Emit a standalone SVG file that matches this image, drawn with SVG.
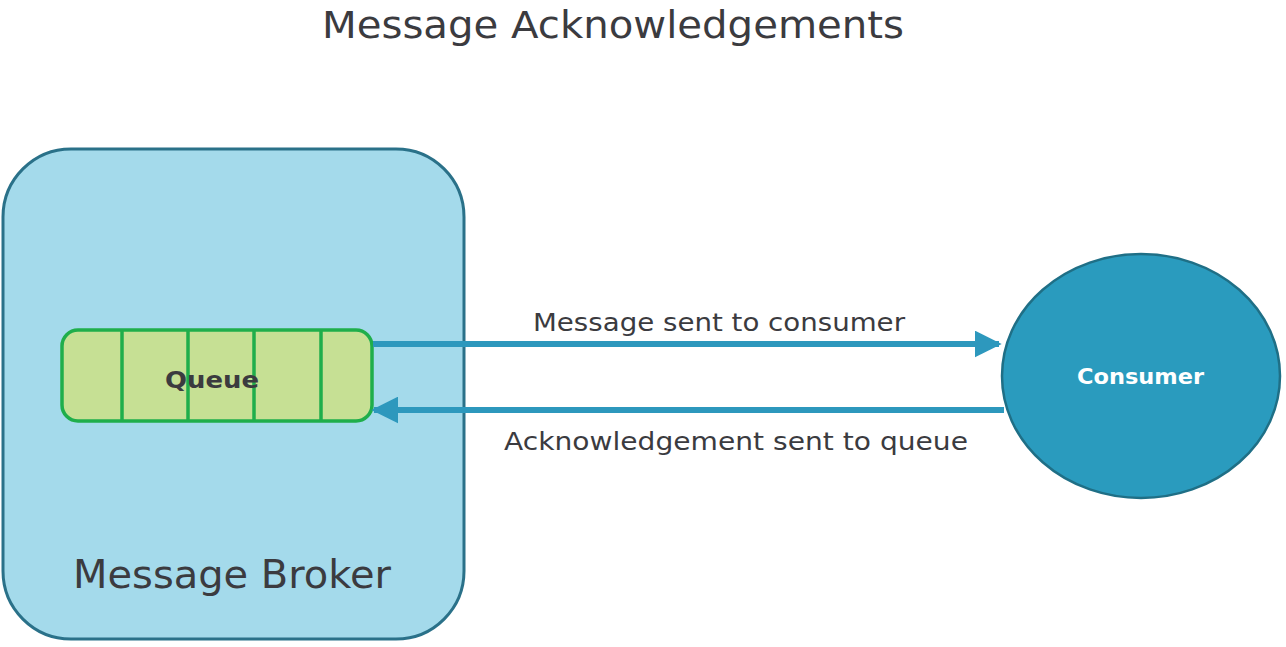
<svg xmlns="http://www.w3.org/2000/svg" width="1286" height="647" viewBox="0 0 1286 647">
<style>
text{font-family:"DejaVu Sans","Open Sans","Liberation Sans",sans-serif;fill:#3b3b3f}
.lbl{font-size:25px}
.b{font-weight:bold}
.conn{stroke:#2d98bd;stroke-width:6;fill:none}
.div{stroke:#1fae4b;stroke-width:3.5}
</style>
<defs>
<marker id="ah" viewBox="0 0 10 10" refX="9" refY="5" markerWidth="4.5" markerHeight="4.5" markerUnits="strokeWidth" orient="auto">
<path d="M0,0 L10,5 L0,10 z" fill="#2d98bd"/>
</marker>
</defs>
<rect width="1286" height="647" fill="#ffffff"/>
<text x="322" y="38" font-size="37" textLength="582" lengthAdjust="spacingAndGlyphs">Message Acknowledgements</text>
<g id="broker">
<rect x="3" y="149" width="461" height="490" rx="68" fill="#a4daeb" stroke="#2a7189" stroke-width="3"/>
<text x="73" y="588" font-size="39" textLength="318" lengthAdjust="spacingAndGlyphs">Message Broker</text>
</g>
<g id="queue">
<rect x="62" y="330" width="310" height="91" rx="16" fill="#c6e094" stroke="#1fae4b" stroke-width="3.5"/>
<line class="div" x1="122" y1="331" x2="122" y2="420"/>
<line class="div" x1="188" y1="331" x2="188" y2="420"/>
<line class="div" x1="254" y1="331" x2="254" y2="420"/>
<line class="div" x1="321" y1="331" x2="321" y2="420"/>
<text class="b" x="165" y="388" font-size="23" textLength="94" lengthAdjust="spacingAndGlyphs">Queue</text>
</g>
<g id="consumer">
<ellipse cx="1141" cy="376" rx="139" ry="122" fill="#2a9bbe" stroke="#1f6f86" stroke-width="2.5"/>
<text class="b" x="1077" y="384" font-size="22" textLength="127" lengthAdjust="spacingAndGlyphs" style="fill:#ffffff">Consumer</text>
</g>
<g id="connectors">
<line class="conn" x1="373" y1="344" x2="999" y2="344" marker-end="url(#ah)"/>
<line class="conn" x1="1004" y1="410" x2="374" y2="410" marker-end="url(#ah)"/>
<text class="lbl" x="533" y="331" textLength="372" lengthAdjust="spacingAndGlyphs">Message sent to consumer</text>
<text class="lbl" x="504" y="450" textLength="464" lengthAdjust="spacingAndGlyphs">Acknowledgement sent to queue</text>
</g>
</svg>
